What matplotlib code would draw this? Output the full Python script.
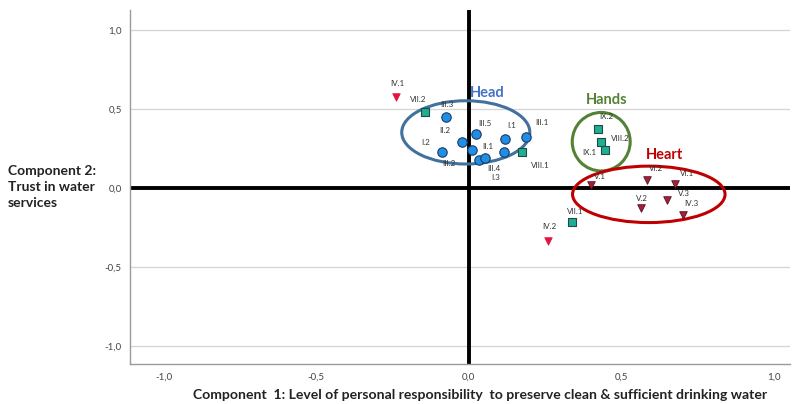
import matplotlib
matplotlib.use("Agg")
import matplotlib.pyplot as plt
from matplotlib.patches import Ellipse

# ---- data ----
head_labels = ["III.3", "II.2", "III.5", "I.1", "III.1", "I.2", "III.2", "II.1", "III.4", "I.3"]
head_x = [-0.075, -0.024, 0.025, 0.12, 0.187, -0.088, 0.011, 0.116, 0.033, 0.052]
head_y = [0.45, 0.29, 0.34, 0.31, 0.32, 0.23, 0.24, 0.23, 0.18, 0.19]

square_labels = ["VII.2", "VIII.1", "IX.2", "VIII.2", "IX.1", "VII.1"]
square_x = [-0.144, 0.175, 0.424, 0.433, 0.448, 0.337]
square_y = [0.478, 0.226, 0.373, 0.291, 0.243, -0.212]

tri_bright_labels = ["IV.1", "IV.2"]
tri_bright_x = [-0.239, 0.26]
tri_bright_y = [0.577, -0.334]

heart_labels = ["V.1", "VI.2", "VI.1", "V.3", "V.2", "IV.3"]
heart_x = [0.40, 0.585, 0.675, 0.65, 0.566, 0.703]
heart_y = [0.017, 0.048, 0.023, -0.077, -0.124, -0.17]

tick_vals = [-1.0, -0.5, 0.0, 0.5, 1.0]
tick_labels = ["-1,0", "-0,5", "0,0", "0,5", "1,0"]

groups = ["Head", "Hands", "Heart"]
group_centers = [(-0.01, 0.352), (0.434, 0.293), (0.59, -0.04)]
group_sizes = [(0.42, 0.40), (0.19, 0.37), (0.50, 0.357)]
group_text_pos = [(0.059, 0.604), (0.451, 0.558), (0.643, 0.208)]

# label offsets in pixels (dx right, dy down)
head_off = [(1, -12), (-17, -12), (8, -11), (6, -14), (16, -15), (-16, -9), (-23, 13), (-16, -5), (15, 9), (11, 20)]
square_off = [(-7, -13), (18, 13), (8, -13), (19, -4), (-16, 3), (4, -10)]
tri_bright_off = [(1, -13), (1, -14)]
heart_off = [(9, -9), (9, -12), (12, -11), (17, -7), (0, -9), (8, -11)]

# ---- figure ----
plt.rcParams['font.family'] = ['Lato', 'DejaVu Sans']
fig = plt.figure(figsize=(7.94, 4.04), dpi=100)
ax = fig.add_axes([130 / 794, 1 - 364 / 404, 660 / 794, 354 / 404])
ax.set_xlim(-1.111, 1.053)
ax.set_ylim(-1.113, 1.126)

for t in tick_vals:
    if t != 0:
        ax.axhline(t, color="#d4d4d4", lw=0.9, zorder=0)
ax.axhline(0, color="black", lw=2.8, zorder=1)
ax.axvline(0, color="black", lw=2.8, zorder=1)

ax.set_xticks(tick_vals)
ax.set_xticklabels(tick_labels)
ax.set_yticks(tick_vals)
ax.set_yticklabels(tick_labels)
ax.tick_params(length=0, labelsize=7, labelcolor="#444444", pad=6)
for s in ["top", "right"]:
    ax.spines[s].set_visible(False)
for s in ["left", "bottom"]:
    ax.spines[s].set_color("#9a9a9a")
    ax.spines[s].set_linewidth(1.0)

ax.scatter(head_x, head_y, marker="o", s=46, c="#1f8fe6", edgecolors="#1d3a63", linewidths=0.8, zorder=4)
ax.scatter(square_x, square_y, marker="s", s=34, c="#1fae92", edgecolors="#1f4a45", linewidths=0.8, zorder=4)
ax.scatter(tri_bright_x, tri_bright_y, marker="v", s=30, c="#e5123e", edgecolors="#e5123e", linewidths=0.5, zorder=4)
ax.scatter(heart_x, heart_y, marker="v", s=30, c="#a3203e", edgecolors="#5a1020", linewidths=0.6, zorder=4)

def put_labels(labels, xs, ys, offs):
    for lab, x, y, (dx, dy) in zip(labels, xs, ys, offs):
        ax.annotate(lab, (x, y), xytext=(dx, -dy), textcoords="offset pixels",
                    ha="center", va="center", fontsize=5.8, color="#333333", zorder=5)

put_labels(head_labels, head_x, head_y, head_off)
put_labels(square_labels, square_x, square_y, square_off)
put_labels(tri_bright_labels, tri_bright_x, tri_bright_y, tri_bright_off)
put_labels(heart_labels, heart_x, heart_y, heart_off)

group_colors = ["#41719c", "#548235", "#c00000"]
text_colors = ["#4472c4", "#548235", "#c00000"]
for g, c, (w, h), tp, col, tcol in zip(groups, group_centers, group_sizes, group_text_pos, group_colors, text_colors):
    ax.add_patch(Ellipse(c, w, h, fill=False, edgecolor=col, lw=2.2, zorder=3))
    ax.text(tp[0], tp[1], g, ha="center", va="center", fontsize=10.5, fontweight="bold", color=tcol, zorder=5)

fig.text(480 / 794, 1 - 395 / 404,
         "Component  1: Level of personal responsibility  to preserve clean & sufficient drinking water",
         ha="center", va="center", fontsize=10.1, fontweight="bold", color="#222222")
fig.text(8 / 794, 1 - 187 / 404, "Component 2:\nTrust in water\nservices",
         ha="left", va="center", fontsize=10, fontweight="bold", color="#222222", linespacing=1.4)

fig.savefig("out.png", dpi=100)
